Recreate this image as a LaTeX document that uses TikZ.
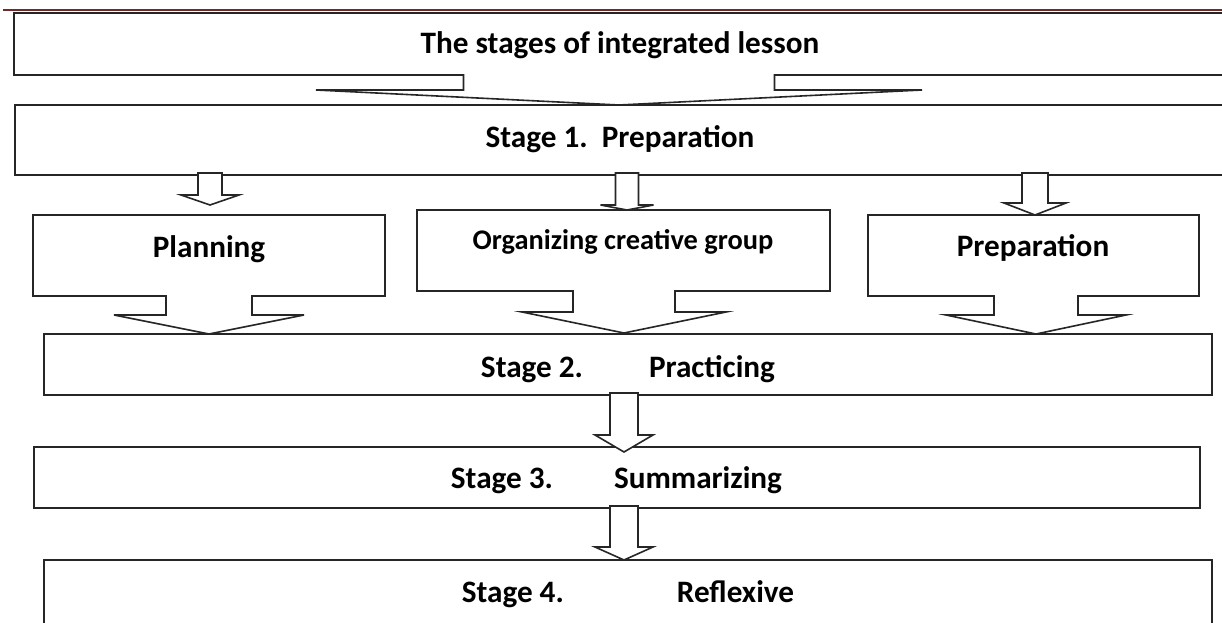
\documentclass[tikz,border=0pt]{standalone}
\usepackage{fontspec}
\setmainfont{Carlito}
\usetikzlibrary{calc,fit}
\definecolor{topline}{HTML}{6E2B2B}
\tikzset{
	stagebox/.style={draw=black!85, line width=0.8pt, fill=white, inner sep=0pt, outer sep=0pt},
	stagetext/.style={font=\fontsize{15.6}{18}\selectfont\bfseries, anchor=base, inner sep=0pt},
	arrowbody/.style={draw=black!85, line width=0.8pt, fill=white, line join=miter}
}
% closed block arrow: (from node)(tip coordinate)(head length:shaft half:head half)
\def\blockarrow[#1](#2)(#3)(#4:#5:#6){%
	\coordinate (#3 top) at (#3 |- #2.south);
	\filldraw[#1] ($(#3 top)+(-#5,-2)$) -- ($(#3)+(-#5,-#4)$) -- ($(#3)+(-#6,-#4)$) -- (#3) -- ($(#3)+(#6,-#4)$) -- ($(#3)+(#5,-#4)$) -- ($(#3 top)+(#5,-2)$) -- cycle;}
% open block arrow that grows out of the box above it
\def\notcharrow[#1](#2)(#3)(#4:#5:#6){%
	\coordinate (#3 top) at (#3 |- #2.south);
	\filldraw[#1] ($(#3 top)+(-#5,-1)$) -- ($(#3)+(-#5,-#4)$) -- ($(#3)+(-#6,-#4)$) -- (#3) -- ($(#3)+(#6,-#4)$) -- ($(#3)+(#5,-#4)$) -- ($(#3 top)+(#5,-1)$);}

\begin{document}
\begin{tikzpicture}[x=0.5pt, y=-0.5pt]
	%%%%% START %%%%%
	\useasboundingbox (0,0) rectangle (1222,622);
	\clip (0,0) rectangle (1222,622);
	
	% boxes
	\node[stagebox, fit={(14,13) (1240,75)}] (title) {};
	\node[stagebox, fit={(15,105) (1240,175)}] (stage1) {};
	\node[stagebox, fit={(33,215) (385,296)}] (plan) {};
	\node[stagebox, fit={(417,210) (830,291)}] (organize) {};
	\node[stagebox, fit={(868,215) (1199,296)}] (prep) {};
	\node[stagebox, fit={(44,334) (1212,395)}] (stage2) {};
	\node[stagebox, fit={(34,447) (1200,508)}] (stage3) {};
	\node[stagebox, fit={(44,560) (1212,640)}] (stage4) {};
	
	\draw[line width=1.1pt, color=topline] (3,10) -- (1222,10);
	
	% texts
	\node[stagetext] (title txt) at (620,53) {The stages of integrated lesson};
	\node[stagetext] (stage1 txt) at (620,147) {Stage 1.\ \ Preparation};
	\node[stagetext] (plan txt) at (209,257) {Planning};
	\node[stagetext, font=\fontsize{14.2}{17}\selectfont\bfseries] (organize txt) at (623,249) {Organizing creative group};
	\node[stagetext] (prep txt) at (1033,256) {Preparation};
	\node[stagetext] (stage2 txt) at (628,377) {Stage 2.\hspace{33pt}Practicing};
	\node[stagetext] (stage3 txt) at (616.5,488) {Stage 3.\hspace{30.5pt}Summarizing};
	\node[stagetext] (stage4 txt) at (628,602) {Stage 4.\hspace{56.5pt}Reflexive};
	
	% arrow tips
	\coordinate (tip0) at (619,105);
	\coordinate (tip1) at (210,205);
	\coordinate (tip2) at (627,210);
	\coordinate (tip3) at (1035,215);
	\coordinate (tip4) at (209,334);
	\coordinate (tip5) at (624,333);
	\coordinate (tip6) at (1036,334);
	\coordinate (tip7) at (624,452);
	\coordinate (tip8) at (624,560);
	
	% arrows
	\notcharrow[arrowbody](title)(tip0)(15:155.5:303)
	\blockarrow[arrowbody](stage1)(tip1)(10:12:29)
	\blockarrow[arrowbody](stage1)(tip2)(5:11.5:26.5)
	\blockarrow[arrowbody](stage1)(tip3)(12:13:31)
	\notcharrow[arrowbody](plan)(tip4)(19:43:95)
	\notcharrow[arrowbody](organize)(tip5)(21:51:102)
	\notcharrow[arrowbody](prep)(tip6)(19:42:90)
	\blockarrow[arrowbody](stage2)(tip7)(17:14:29)
	\blockarrow[arrowbody](stage3)(tip8)(13:14:29)
	
	%%%%% END %%%%%
\end{tikzpicture}
\end{document}
